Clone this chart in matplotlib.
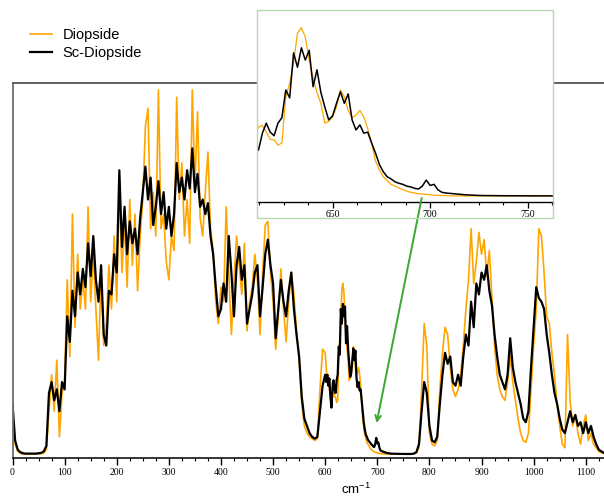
import numpy as np
import matplotlib
matplotlib.use("Agg")
import matplotlib.pyplot as plt
from matplotlib.patches import Rectangle
from matplotlib.ticker import MultipleLocator, NullLocator

plt.rcParams["mathtext.default"] = "regular"

# Raman shift grid (cm-1): coarse outside the zoomed window, finer inside it
wn_low = np.arange(0, 600, 5)
wn_mid = np.arange(600, 760, 2)
wn_high = np.arange(760, 1140, 5)
wavenumber = np.concatenate([wn_low, wn_mid, wn_high])

# Intensities (arbitrary units)
diopside_low = [
    10, 3, 1, 0.5, 0.3, 0.3, 0.3, 0.3, 0.3, 0.3,
    0.3, 0.4, 0.5, 1.5, 12, 22, 12, 26, 5, 17,
    20, 48, 27, 66, 35, 55, 40, 48, 40, 68,
    42, 55, 40, 26, 50, 30, 36, 52, 40, 60,
    42, 74, 50, 64, 46, 70, 52, 66, 45, 60,
    70, 90, 95, 62, 72, 60, 100, 62, 66, 53,
    48, 60, 56, 98, 70, 80, 60, 70, 58, 100,
    74, 94, 65, 60, 72, 83, 62, 56, 42, 36,
    46, 42, 68, 50, 33, 48, 60, 52, 44, 58,
    34, 42, 46, 55, 48, 33, 50, 63, 64, 50,
    42, 29, 38, 51, 40, 31, 42, 50, 44, 34,
    26, 14, 8, 6, 5, 4.5, 4, 4.5, 18, 29,
]
diopside_mid = [
    28, 24, 20, 22, 18, 17, 19.4, 19.9, 18, 16,
    15.8, 14.4, 15, 27.8, 31.6, 37.2, 45.5, 47, 44.4, 38,
    33, 29, 26, 20.5, 21, 22.2, 25, 29.7, 27.8, 24,
    22, 22.7, 24, 22.2, 19, 15, 10, 7.5, 5.6, 4.5,
    3.5, 3, 2.5, 2, 1.6, 1.3, 1.1, 0.9, 0.8, 0.7,
    0.6, 0.5, 0.45, 0.4, 0.35, 0.32, 0.3, 0.3, 0.28, 0.28,
    0.27, 0.27, 0.27, 0.27, 0.27, 0.26, 0.26, 0.26, 0.26, 0.26,
    0.26, 0.26, 0.25, 0.25, 0.25, 0.25, 0.25, 0.25, 0.25, 0.25,
]
diopside_high = [
    0.25, 0.25, 0.3, 0.6, 2, 18, 36, 30, 6, 3,
    2.5, 4, 18, 28, 35, 33, 24, 18, 16, 18,
    22, 30, 40, 48, 62, 47, 53, 61, 55, 59,
    49, 56, 43, 30, 22, 18, 16, 15, 20, 27,
    20, 15, 10, 6, 4, 3.5, 6, 18, 30, 40,
    62, 60, 50, 38, 36, 28, 22, 14, 8, 3,
    2, 33, 15, 8, 11, 6, 3, 8, 11, 4,
    6, 3, 2, 1, 0.6, 0.4,
]

sc_diopside_low = [
    14, 4, 1.5, 0.8, 0.5, 0.4, 0.4, 0.4, 0.4, 0.4,
    0.5, 0.6, 1.0, 2.5, 17, 20, 15, 18, 12, 20,
    18, 38, 31, 45, 38, 50, 44, 51, 46, 58,
    49, 60, 48, 42, 52, 33, 30, 45, 44, 55,
    50, 78, 57, 68, 55, 64, 58, 62, 55, 65,
    72, 79, 70, 76, 63, 68, 75, 66, 72, 62,
    68, 60, 66, 80, 72, 76, 70, 78, 73, 84,
    72, 77, 68, 70, 66, 69, 60, 55, 46, 38,
    40, 47, 42, 60, 50, 38, 52, 57, 48, 52,
    36, 40, 44, 50, 52, 38, 46, 55, 59, 52,
    47, 32, 40, 48, 42, 38, 45, 50, 40, 33,
    27, 16, 10, 8, 6, 5, 4.5, 5, 12, 19,
]
sc_diopside_mid = [
    22, 20, 22, 19, 21, 16, 13, 17.7, 20.5, 18,
    17, 20.5, 22, 29.7, 27.5, 40, 36, 41.4, 38, 40.7,
    30.6, 35.3, 29, 25, 21.4, 22.5, 26, 29.2, 26, 28.6,
    21.4, 18.6, 20, 17.7, 18, 15, 12.2, 9, 7, 5.6,
    5, 4.2, 3.8, 3.5, 3, 2.8, 2.4, 2.2, 3, 4.7,
    3.2, 3.5, 2, 1.3, 1.1, 1.0, 0.9, 0.8, 0.7, 0.6,
    0.55, 0.5, 0.45, 0.4, 0.4, 0.38, 0.36, 0.35, 0.35, 0.34,
    0.34, 0.33, 0.33, 0.32, 0.32, 0.31, 0.31, 0.3, 0.3, 0.3,
]
sc_diopside_high = [
    0.3, 0.3, 0.4, 0.8, 3, 12, 20, 17, 8, 4,
    3.5, 5, 14, 22, 28, 25, 27, 20, 19, 22,
    19, 27, 33, 30, 42, 35, 47, 44, 50, 48,
    52, 45, 41, 33, 27, 22, 20, 18, 22, 32,
    24, 20, 17, 14, 10, 9, 12, 24, 35, 46,
    43, 42, 40, 33, 28, 22, 17, 14, 10, 7,
    6, 9, 12, 9, 11, 8, 9, 6, 9, 6,
    8, 5, 3, 1.5, 1, 0.6,
]

diopside = np.array(diopside_low + diopside_mid + diopside_high)
sc_diopside = np.array(sc_diopside_low + sc_diopside_mid + sc_diopside_high)

series_labels = ["Diopside", "Sc-Diopside"]
series_colors = ["#FFA500", "#000000"]

main_xlim = (0, 1135)
main_ylim = (-0.8, 101.9)
inset_xlim = (611.4, 763)
inset_ylim = (-1.4, 51.9)
arrow_target = (698.7, 8.8)

W, H = 604, 498
fig = plt.figure(figsize=(W / 100, H / 100), dpi=100)


def fx(px):
    return px / W


def fy(py):
    return 1 - py / H


serif = "Liberation Serif"
sans = "Liberation Sans"

# ---- main spectrum ----
ax = fig.add_axes([fx(12.5), fy(458), fx(W - 12.5), fy(83) - fy(458)])
ax.plot(wavenumber, diopside, color=series_colors[0], lw=1.2, label=series_labels[0])
ax.plot(wavenumber, sc_diopside, color=series_colors[1], lw=1.6, label=series_labels[1])
ax.set_xlim(*main_xlim)
ax.set_ylim(*main_ylim)
ax.yaxis.set_major_locator(NullLocator())
ax.xaxis.set_major_locator(MultipleLocator(100))
ax.xaxis.set_minor_locator(MultipleLocator(25))
ax.tick_params(axis="x", which="major", direction="out", length=5, width=1.0, pad=2.5)
ax.tick_params(axis="x", which="minor", direction="out", length=2.5, width=0.8)
for lbl in ax.get_xticklabels():
    lbl.set_fontfamily(serif)
    lbl.set_fontsize(7)
ax.spines["right"].set_visible(False)
ax.spines["left"].set_color("#6e6e6e")
ax.spines["left"].set_linewidth(1.3)
ax.spines["top"].set_color("#555555")
ax.spines["top"].set_linewidth(1.3)
ax.spines["bottom"].set_linewidth(1.1)

fig.text(fx(341), fy(494), "cm$^{-1}$", ha="left", va="baseline",
         fontsize=9.5, family=sans)

# ---- legend ----
handles, labels = ax.get_legend_handles_labels()
fig.legend(handles, labels, loc="upper left", bbox_to_anchor=(fx(30), fy(28)),
           frameon=False, prop={"family": sans, "size": 10.5},
           handlelength=1.5, handletextpad=0.75, labelspacing=0.3,
           borderpad=0, borderaxespad=0)

# ---- zoomed inset ----
axin = fig.add_axes([fx(257.3), fy(202), fx(553) - fx(257.3), fy(10) - fy(202)])
axin.set_facecolor("white")
axin.plot(wavenumber, diopside, color=series_colors[0], lw=0.9)
axin.plot(wavenumber, sc_diopside, color=series_colors[1], lw=1.1)
axin.set_xlim(*inset_xlim)
axin.set_ylim(*inset_ylim)
axin.yaxis.set_major_locator(NullLocator())
axin.xaxis.set_major_locator(MultipleLocator(50))
axin.xaxis.set_minor_locator(MultipleLocator(12.5))
axin.tick_params(axis="x", which="major", direction="out", length=4, width=0.9, pad=1.5)
axin.tick_params(axis="x", which="minor", direction="out", length=2.5, width=0.8)
for lbl in axin.get_xticklabels():
    lbl.set_fontfamily(serif)
    lbl.set_fontsize(7)
for side in ("top", "left", "right"):
    axin.spines[side].set_visible(False)
axin.spines["bottom"].set_linewidth(1.0)

fig.add_artist(Rectangle((fx(257), fy(218)), fx(553) - fx(257), fy(10) - fy(218),
                         transform=fig.transFigure, fill=False,
                         edgecolor="#b2d9ab", lw=1.0))

axin.annotate("", xy=arrow_target, xycoords=ax.transData,
              xytext=(fx(421.7), fy(198)), textcoords="figure fraction",
              annotation_clip=False,
              arrowprops=dict(arrowstyle="->", color="#3aa832", lw=1.4,
                              shrinkA=0, shrinkB=0, mutation_scale=10))

fig.savefig("out.png", dpi=100)
